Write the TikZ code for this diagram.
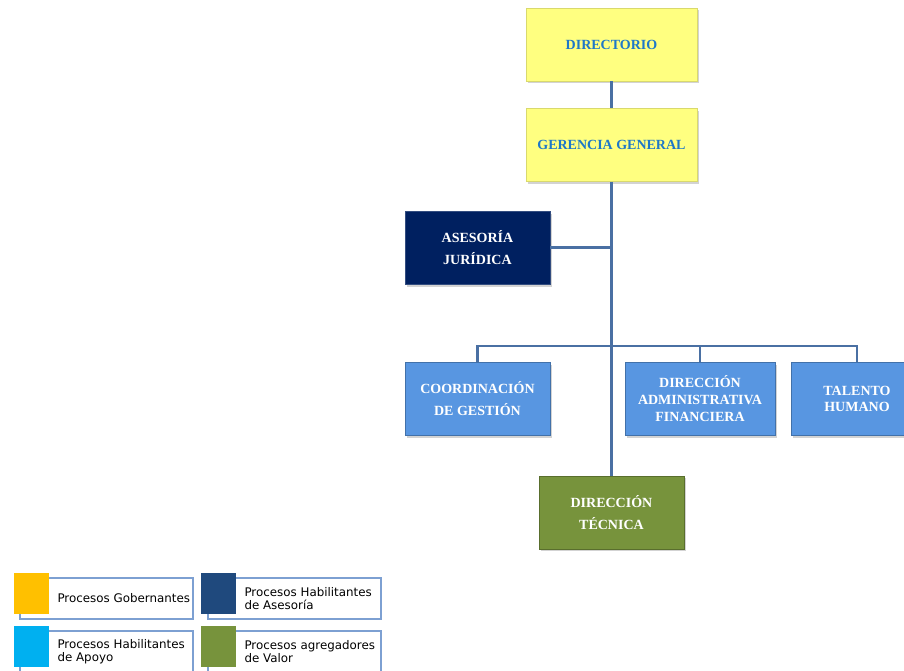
\documentclass[tikz,border=0pt]{standalone}
\usepackage{fontspec}
\setmainfont{Liberation Serif}
\newfontfamily\legendfont{DejaVu Sans}
\usepackage{tikz}
\usetikzlibrary{shadows, positioning}
\definecolor{LineBlue}{RGB}{74,112,163}
\definecolor{GovYellow}{RGB}{255,255,128}
\definecolor{GovText}{RGB}{30,120,200}
\definecolor{AsesorBlue}{RGB}{0,32,96}
\definecolor{ApoyoBlue}{RGB}{88,150,225}
\definecolor{ValorGreen}{RGB}{119,147,60}
\definecolor{LegYellow}{RGB}{255,192,0}
\definecolor{LegNavy}{RGB}{31,73,125}
\definecolor{LegCyan}{RGB}{0,176,240}
\definecolor{FrameBlue}{RGB}{125,160,210}
\tikzstyle{conn} = [line width=2pt, draw=LineBlue]
\tikzstyle{unit} = [rectangle, minimum height=54.75pt, text centered, align=center, font=\bfseries\fontsize{10.5}{16.5}\selectfont, drop shadow={shadow xshift=1.2pt, shadow yshift=-1.8pt, opacity=0.35}]
\tikzstyle{gobernante} = [unit, minimum width=128.25pt, fill=GovYellow, draw=GovYellow!85!black, text=GovText]
\tikzstyle{asesor} = [unit, minimum width=108.75pt, fill=AsesorBlue, draw=AsesorBlue!80!white, text=white]
\tikzstyle{apoyo} = [unit, minimum width=108.75pt, fill=ApoyoBlue, draw=ApoyoBlue!75!black, text=white]
\tikzstyle{agregador} = [unit, minimum width=108.75pt, fill=ValorGreen, draw=ValorGreen!75!black, text=white]
\tikzstyle{legsquare} = [rectangle, minimum width=26.25pt, minimum height=30.75pt, inner sep=0pt]
\tikzstyle{legframe} = [rectangle, draw=FrameBlue, line width=0.9pt, minimum width=129.75pt, minimum height=30.75pt, inner sep=0pt]
\tikzstyle{legtext} = [anchor=west, align=left, inner sep=0pt, yshift=-3.75pt, font=\legendfont\fontsize{8.9}{9.6}\selectfont]

\begin{document}
\begin{tikzpicture}[node distance=75.4pt]
      \useasboundingbox (0,0) rectangle (678pt,-503.25pt);
      \clip (0,0) rectangle (678pt,-503.25pt);
      % organigrama
      \node (directorio) [gobernante] at (458.6pt,-33.4pt) {DIRECTORIO};
      \node (gerencia) [gobernante, below of=directorio] {GERENCIA GENERAL};
      \node (asesoria) [asesor, below of=gerencia, xshift=-100.5pt, yshift=-1.5pt] {ASESORÍA\\JURÍDICA};
      \node (tecnica) [agregador, below of=gerencia, yshift=-200.2pt] {DIRECCIÓN\\TÉCNICA};
      \node (coordinacion) [apoyo, below of=asesoria, yshift=-38pt] {COORDINACIÓN\\DE GESTIÓN};
      \node (daf) [apoyo, right of=coordinacion, xshift=91.5pt, minimum width=112.5pt, font=\bfseries\fontsize{10.5}{12.75}\selectfont] {DIRECCIÓN\\ADMINISTRATIVA\\FINANCIERA};
      \node (talento) [apoyo, right of=daf, xshift=42.35pt, minimum width=99pt, font=\bfseries\fontsize{10.5}{12.5}\selectfont] {TALENTO\\HUMANO};
      \coordinate (bus) at (458.6pt,-259.5pt);
      \draw [conn] (directorio) -- (gerencia);
      \draw [conn] (gerencia) -- (tecnica);
      \draw [conn] (asesoria.east) -- (asesoria.east -| gerencia.south);
      \draw [conn] (coordinacion.north) |- (bus) -| (talento.north);
      \draw [conn] (daf.north) -- (daf.north |- bus);
      % leyenda
      \node (frame_gob) [legframe] at (79.875pt,-448.875pt) {};
      \node (frame_ase) [legframe] at (220.875pt,-448.875pt) {};
      \node (frame_apo) [legframe] at (79.875pt,-488.6pt) {};
      \node (frame_val) [legframe] at (220.875pt,-488.6pt) {};
      \node (gob) [legsquare, fill=LegYellow] at (23.625pt,-445.125pt) {};
      \node (ase) [legsquare, fill=LegNavy] at (163.875pt,-445.125pt) {};
      \node (apo) [legsquare, fill=LegCyan] at (23.625pt,-484.875pt) {};
      \node (val) [legsquare, fill=ValorGreen] at (163.875pt,-484.875pt) {};
      \node (gob_text) [legtext, right=6pt of gob] {Procesos Gobernantes};
      \node (ase_text) [legtext, right=6pt of ase] {Procesos Habilitantes\\de Asesoría};
      \node (apo_text) [legtext, right=6pt of apo] {Procesos Habilitantes\\de Apoyo};
      \node (val_text) [legtext, right=6pt of val] {Procesos agregadores\\de Valor};
    \end{tikzpicture}
\end{document}
